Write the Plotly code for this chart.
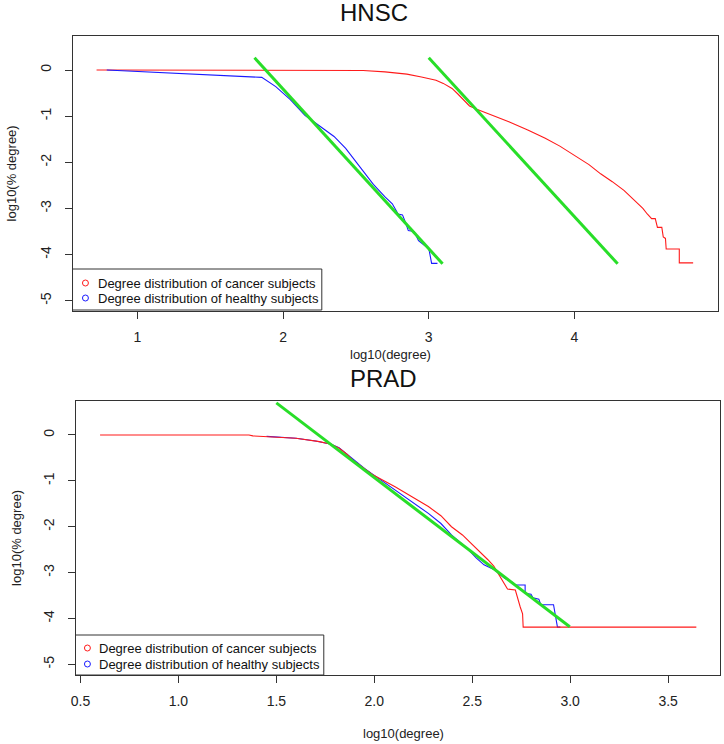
import plotly.graph_objects as go

# ---------------- data ----------------
hnsc_cancer_x = [0.72, 1.5, 2.0, 2.4, 2.55, 2.7, 2.85, 2.95, 3.05, 3.10, 3.16, 3.20, 3.25, 3.28, 3.33,
                 3.45, 3.55, 3.68, 3.80, 3.90, 4.00, 4.10, 4.18, 4.26, 4.34, 4.42, 4.47, 4.50,
                 4.53, 4.555, 4.57, 4.60, 4.61, 4.625, 4.63, 4.72, 4.72, 4.815]
hnsc_cancer_y = [0.0, 0.0, 0.0, 0.0, -0.01, -0.04, -0.09, -0.15, -0.22, -0.29, -0.40, -0.52, -0.69, -0.78, -0.85,
                 -0.99, -1.12, -1.30, -1.48, -1.65, -1.85, -2.05, -2.25, -2.42, -2.61, -2.85, -3.00, -3.12,
                 -3.22, -3.22, -3.41, -3.41, -3.62, -3.65, -3.88, -3.88, -4.18, -4.18]

hnsc_healthy_x = [0.79, 1.0, 1.3, 1.6, 1.854, 1.95, 2.05, 2.15, 2.25, 2.35, 2.43, 2.50, 2.543, 2.62,
                  2.70, 2.75, 2.79, 2.82, 2.84, 2.86, 2.90, 2.93, 2.97, 3.0, 3.02, 3.06]
hnsc_healthy_y = [0.0, -0.03, -0.07, -0.12, -0.16, -0.36, -0.64, -0.98, -1.20, -1.44, -1.70, -1.98, -2.17, -2.48,
                  -2.75, -2.90, -3.12, -3.14, -3.30, -3.48, -3.50, -3.70, -3.80, -3.86, -4.19, -4.19]

hnsc_fit1_x = [1.804, 3.095]
hnsc_fit1_y = [0.267, -4.20]
hnsc_fit2_x = [3.0, 4.297]
hnsc_fit2_y = [0.267, -4.20]

prad_cancer_x = [0.60, 1.0, 1.36, 1.38, 1.50, 1.60, 1.72, 1.78, 1.821, 1.86, 1.889, 1.94, 1.99, 2.106,
                 2.20, 2.276, 2.34, 2.394, 2.45, 2.495, 2.55, 2.58, 2.61, 2.63, 2.65, 2.68, 2.72,
                 2.73, 2.745, 2.757, 2.76, 3.644]
prad_cancer_y = [0.0, 0.0, 0.0, -0.02, -0.04, -0.07, -0.145, -0.20, -0.29, -0.42, -0.545, -0.70, -0.86, -1.13,
                 -1.36, -1.56, -1.76, -2.00, -2.18, -2.36, -2.58, -2.72, -2.86, -3.00, -3.12, -3.36, -3.38,
                 -3.55, -3.75, -3.90, -4.19, -4.19]

prad_healthy_x = [1.45, 1.50, 1.60, 1.70, 1.78, 1.82, 1.86, 1.90, 1.95, 2.0, 2.106, 2.20, 2.276, 2.34,
                  2.394, 2.44, 2.48, 2.52, 2.56, 2.613, 2.664, 2.70, 2.72, 2.77, 2.77, 2.80, 2.81,
                  2.84, 2.85, 2.915, 2.925, 2.935, 2.95]
prad_healthy_y = [-0.03, -0.04, -0.07, -0.13, -0.20, -0.28, -0.42, -0.56, -0.73, -0.88, -1.20, -1.47, -1.71, -1.93,
                  -2.18, -2.35, -2.50, -2.68, -2.83, -2.94, -3.12, -3.20, -3.27, -3.27, -3.45, -3.47, -3.55,
                  -3.58, -3.70, -3.70, -3.95, -4.19, -4.19]

prad_fit_x = [1.5, 2.998]
prad_fit_y = [0.70, -4.18]

x_ticks_top = [1, 2, 3, 4]
x_ticks_bottom = [0.5, 1.0, 1.5, 2.0, 2.5, 3.0, 3.5]
y_ticks = [-5, -4, -3, -2, -1, 0]

legend_labels = ["Degree distribution of cancer subjects", "Degree distribution of healthy subjects"]
panel_titles = ["HNSC", "PRAD"]
x_title = "log10(degree)"
y_title = "log10(% degree)"

# ---------------- style ----------------
W, H = 724, 744
FONT = "Liberation Sans, Arial, sans-serif"
RED = "#ff1a1a"
BLUE = "#1a1aff"
GREEN = "rgb(40,222,40)"
AX = "#333333"


def px(x):
    return x / W


def py(y):
    return 1 - y / H


fig = go.Figure()

# top panel
fig.add_trace(go.Scatter(x=hnsc_cancer_x, y=hnsc_cancer_y, mode="lines",
                         line=dict(color=RED, width=1.1), xaxis="x", yaxis="y"))
fig.add_trace(go.Scatter(x=hnsc_healthy_x, y=hnsc_healthy_y, mode="lines",
                         line=dict(color=BLUE, width=1.1), xaxis="x", yaxis="y"))
fig.add_trace(go.Scatter(x=hnsc_fit1_x, y=hnsc_fit1_y, mode="lines",
                         line=dict(color=GREEN, width=3), xaxis="x", yaxis="y"))
fig.add_trace(go.Scatter(x=hnsc_fit2_x, y=hnsc_fit2_y, mode="lines",
                         line=dict(color=GREEN, width=3), xaxis="x", yaxis="y"))

# bottom panel
fig.add_trace(go.Scatter(x=prad_healthy_x, y=prad_healthy_y, mode="lines",
                         line=dict(color=BLUE, width=1.1), xaxis="x2", yaxis="y2"))
fig.add_trace(go.Scatter(x=prad_cancer_x, y=prad_cancer_y, mode="lines",
                         line=dict(color=RED, width=1.1), xaxis="x2", yaxis="y2"))
fig.add_trace(go.Scatter(x=prad_fit_x, y=prad_fit_y, mode="lines",
                         line=dict(color=GREEN, width=3), xaxis="x2", yaxis="y2"))

axis_common = dict(showline=True, mirror=True, linecolor=AX, linewidth=1,
                   ticks="outside", ticklen=7, tickcolor=AX, tickwidth=1,
                   showgrid=False, zeroline=False,
                   tickfont=dict(family=FONT, size=14, color="#222222"))

fig.update_layout(
    width=W, height=H,
    margin=dict(l=0, r=0, t=0, b=0),
    paper_bgcolor="white", plot_bgcolor="white",
    showlegend=False,
    hovermode=False,
    xaxis=dict(domain=[px(68), px(718)], range=[0.555, 4.986], anchor="y",
               tickvals=x_ticks_top, ticktext=[str(v) for v in x_ticks_top],
               ticklabelstandoff=6, **axis_common),
    yaxis=dict(domain=[py(311), py(36)], range=[-5.223, 0.737], anchor="x",
               tickvals=y_ticks, ticktext=[str(v) for v in y_ticks], tickangle=-90,
               ticklabelstandoff=8, **axis_common),
    xaxis2=dict(domain=[px(71), px(720)], range=[0.4746, 3.765], anchor="y2",
                tickvals=x_ticks_bottom, ticktext=[f"{v:.1f}" for v in x_ticks_bottom],
                ticklabelstandoff=6, **axis_common),
    yaxis2=dict(domain=[py(675), py(401)], range=[-5.233, 0.741], anchor="x2",
                tickvals=y_ticks, ticktext=[str(v) for v in y_ticks], tickangle=-90,
                ticklabelstandoff=8, **axis_common),
)

annotations = []
shapes = []

# titles
for (tx, ty), t in zip([(371.5, 13), (381, 378)], panel_titles):
    annotations.append(dict(x=px(tx), y=py(ty), xref="paper", yref="paper", text=t, showarrow=False,
                            xanchor="center", yanchor="middle",
                            font=dict(family=FONT, size=24, color="#111111")))

# axis titles
for (tx, ty) in [(388, 354), (401, 733)]:
    annotations.append(dict(x=px(tx), y=py(ty), xref="paper", yref="paper", text=x_title, showarrow=False,
                            xanchor="center", yanchor="middle",
                            font=dict(family=FONT, size=13, color="#222222")))
for (tx, ty) in [(7, 173.5), (11, 538)]:
    annotations.append(dict(x=px(tx), y=py(ty), xref="paper", yref="paper", text=y_title, showarrow=False,
                            textangle=-90, xanchor="center", yanchor="middle",
                            font=dict(family=FONT, size=13, color="#222222")))

# legends (drawn as boxes with circle keys and text)
legend_boxes = [dict(x0=68, x1=319, y0=269, y1=310, cx=81, tx=92, rows=[283, 298]),
                dict(x0=71, x1=321, y0=635, y1=675, cx=83, tx=93, rows=[648, 664])]
for lb in legend_boxes:
    shapes.append(dict(type="rect", xref="paper", yref="paper",
                       x0=px(lb["x0"]), x1=px(lb["x1"]), y0=py(lb["y1"]), y1=py(lb["y0"]),
                       line=dict(color=AX, width=1), fillcolor="white", layer="above"))
    for ry, col, lab in zip(lb["rows"], [RED, BLUE], legend_labels):
        shapes.append(dict(type="circle", xref="paper", yref="paper",
                           x0=px(lb["cx"] - 3), x1=px(lb["cx"] + 3), y0=py(ry + 3), y1=py(ry - 3),
                           line=dict(color=col, width=1), layer="above"))
        annotations.append(dict(x=px(lb["tx"]), y=py(ry), xref="paper", yref="paper", text=lab,
                                showarrow=False, xanchor="left", yanchor="middle",
                                font=dict(family=FONT, size=13, color="#111111")))

fig.update_layout(annotations=annotations, shapes=shapes)

fig.write_html("out.html",
               config={"displayModeBar": False, "staticPlot": True},
               post_script="document.body.style.margin='0';document.body.style.overflow='hidden';")
